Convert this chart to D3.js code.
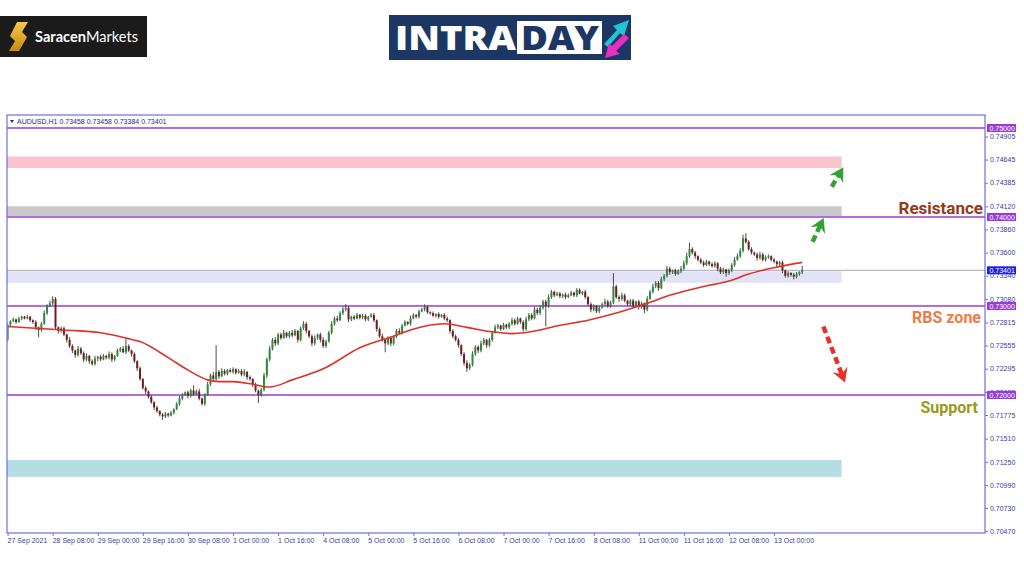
<!DOCTYPE html>
<html>
<head>
<meta charset="utf-8">
<script src="https://cdn.jsdelivr.net/npm/d3@7"></script>
<style>
  body { margin: 0; background: #fff; }
  svg { display: block; font-family: "Liberation Sans", Arial, sans-serif; }
  .axis text { font-size: 7px; fill: #3a3aa8; }
  .axis line { stroke: #6f6fe6; }
  .note { font-family: Roboto, "Noto Sans", sans-serif; font-weight: 700; }
</style>
</head>
<body>
<div class="chart"></div>
<script>
var svgWidth = 1024;
var svgHeight = 583;

// AUDUSD H1 candles, prices in pips (7279 = 0.7279). open = previous close
var firstOpen = 7262;
var closes = [
  7279, 7283, 7285, 7282, 7286, 7288, 7286, 7288, 7284, 7282, 7276, 7273, 7280, 7292, 7300, 7303, 7308, 7276, 7272, 7275,
  7268, 7262, 7255, 7250, 7245, 7252, 7247, 7240, 7244, 7238, 7235, 7241, 7243, 7240, 7244, 7242, 7246, 7240, 7244, 7250,
  7252, 7248, 7255, 7250, 7246, 7238, 7230, 7218, 7208, 7204, 7198, 7192, 7186, 7182, 7178, 7176, 7179, 7177, 7180, 7184,
  7190, 7196, 7200, 7203, 7199, 7205, 7201, 7204, 7196, 7190, 7200, 7212, 7222, 7218, 7226, 7221, 7227, 7224, 7228, 7226,
  7229, 7225, 7227, 7223, 7226, 7220, 7218, 7212, 7205, 7200, 7206, 7222, 7240, 7252, 7262, 7258, 7268, 7264, 7270, 7266,
  7270, 7267, 7272, 7262, 7275, 7280, 7272, 7266, 7258, 7264, 7268, 7262, 7255, 7260, 7270, 7280, 7286, 7284, 7292, 7296,
  7298, 7285, 7288, 7286, 7290, 7287, 7289, 7285, 7288, 7290, 7284, 7274, 7266, 7262, 7258, 7264, 7258, 7266, 7272, 7270,
  7278, 7282, 7280, 7286, 7290, 7288, 7294, 7296, 7299, 7293, 7292, 7289, 7291, 7288, 7290, 7286, 7284, 7272, 7266, 7262,
  7256, 7246, 7236, 7230, 7234, 7246, 7254, 7250, 7258, 7262, 7256, 7262, 7270, 7276, 7278, 7274, 7279, 7276, 7280, 7284,
  7280, 7286, 7282, 7274, 7285, 7290, 7286, 7296, 7292, 7298, 7305, 7300, 7310, 7316, 7312, 7314, 7311, 7313, 7310, 7312,
  7315, 7312, 7318, 7314, 7316, 7310, 7302, 7296, 7300, 7294, 7298, 7302, 7305, 7300, 7304, 7322, 7310, 7308, 7312, 7306,
  7302, 7306, 7300, 7305, 7299, 7303, 7296, 7308, 7316, 7322, 7326, 7320, 7330, 7334, 7342, 7338, 7340, 7336, 7339, 7342,
  7348, 7356, 7364, 7360, 7356, 7352, 7349, 7346, 7350, 7347, 7345, 7348, 7342, 7338, 7341, 7337, 7340, 7346, 7352, 7356,
  7362, 7376, 7372, 7364, 7360, 7358, 7354, 7358, 7352, 7355, 7356, 7352, 7350, 7347, 7349, 7340, 7334, 7337, 7335, 7333,
  7336, 7338, 7340.1
];
var hiWick = [
  2, 1, 2, 1, 2, 1, 1, 2, 1, 1, 2, 1, 2, 3, 2, 3, 3, 2, 1, 2,
  2, 1, 3, 2, 1, 3, 2, 2, 3, 1, 2, 3, 1, 2, 2, 1, 3, 2, 1, 2,
  2, 3, 9, 2, 1, 2, 1, 2, 1, 2, 1, 2, 1, 2, 1, 2, 2, 1, 2, 1,
  2, 3, 2, 1, 2, 2, 6, 2, 3, 1, 2, 3, 2, 4, 30, 2, 3, 2, 1, 2,
  2, 1, 2, 2, 3, 1, 2, 1, 2, 1, 2, 3, 2, 3, 2, 3, 2, 2, 3, 1,
  2, 3, 2, 1, 2, 3, 2, 1, 2, 3, 1, 2, 3, 2, 2, 3, 2, 3, 2, 3,
  4, 2, 1, 2, 2, 1, 2, 2, 1, 2, 2, 1, 2, 3, 1, 2, 2, 1, 2, 3,
  2, 2, 1, 3, 2, 1, 2, 2, 3, 2, 1, 2, 1, 2, 1, 2, 2, 1, 2, 2,
  2, 1, 2, 3, 2, 3, 2, 2, 3, 2, 1, 2, 2, 3, 2, 1, 2, 1, 2, 3,
  2, 2, 1, 2, 3, 2, 2, 3, 2, 3, 2, 2, 3, 2, 1, 2, 2, 1, 2, 2,
  2, 1, 2, 2, 1, 2, 1, 2, 2, 1, 2, 2, 3, 2, 2, 15, 2, 2, 3, 2,
  1, 2, 2, 1, 2, 2, 1, 3, 2, 3, 2, 2, 3, 2, 3, 2, 1, 2, 2, 3,
  3, 4, 7, 2, 2, 1, 2, 2, 2, 1, 2, 2, 1, 2, 2, 1, 2, 2, 3, 3,
  3, 4, 6, 2, 2, 1, 2, 3, 2, 2, 2, 1, 2, 1, 2, 2, 1, 2, 1, 2,
  2, 1, 5
];
var loWick = [
  3, 2, 1, 2, 1, 2, 1, 1, 2, 2, 3, 8, 2, 1, 2, 1, 2, 2, 3, 2,
  2, 3, 2, 3, 3, 2, 2, 3, 2, 3, 2, 2, 3, 2, 1, 2, 2, 3, 2, 1,
  2, 1, 2, 2, 3, 2, 3, 2, 2, 3, 2, 2, 3, 2, 2, 4, 2, 2, 1, 2,
  1, 2, 2, 1, 3, 2, 2, 1, 2, 2, 2, 1, 2, 2, 2, 3, 1, 2, 2, 1,
  2, 2, 1, 2, 2, 3, 2, 3, 2, 9, 2, 2, 3, 2, 2, 3, 2, 2, 1, 2,
  2, 2, 1, 3, 2, 2, 3, 2, 3, 2, 2, 3, 2, 2, 1, 2, 2, 2, 1, 2,
  2, 3, 2, 2, 1, 2, 2, 2, 2, 1, 2, 3, 2, 2, 10, 2, 3, 2, 2, 2,
  2, 1, 2, 2, 1, 2, 2, 1, 2, 2, 2, 1, 2, 2, 1, 2, 2, 3, 2, 2,
  3, 2, 3, 4, 2, 2, 2, 3, 2, 2, 3, 2, 2, 1, 2, 2, 1, 2, 2, 2,
  2, 1, 2, 3, 2, 2, 2, 1, 2, 2, 2, 23, 2, 2, 2, 1, 2, 2, 2, 1,
  1, 2, 2, 1, 2, 2, 2, 3, 2, 2, 2, 1, 2, 2, 2, 2, 2, 3, 2, 2,
  2, 2, 2, 2, 3, 2, 4, 2, 1, 2, 2, 3, 1, 2, 2, 3, 2, 2, 1, 2,
  2, 2, 2, 2, 3, 2, 2, 2, 1, 2, 2, 2, 3, 2, 2, 4, 2, 2, 2, 1,
  2, 2, 2, 2, 2, 2, 3, 2, 2, 2, 2, 2, 2, 3, 2, 3, 2, 2, 2, 3,
  2, 2, 2
];

// red moving average, read at a few bars
var maBars   = [0, 20, 33, 42, 47, 57, 64, 71, 75, 80, 87, 93, 101, 113, 125, 137, 143, 155, 163, 172, 179, 189, 194, 206, 217, 227, 235, 247, 256, 263, 272, 282];
var maValues = [7277, 7273, 7270, 7264, 7260, 7242, 7228, 7217, 7215, 7215, 7212, 7209, 7217, 7231, 7253, 7266, 7273, 7280, 7276, 7271, 7269, 7273, 7277, 7284, 7293, 7303, 7312, 7322, 7328, 7336, 7343, 7349];

var timeLabels = ["27 Sep 2021", "28 Sep 08:00", "29 Sep 00:00", "29 Sep 16:00", "30 Sep 08:00", "1 Oct 00:00",
  "1 Oct 16:00", "4 Oct 08:00", "5 Oct 00:00", "5 Oct 16:00", "6 Oct 08:00", "7 Oct 00:00", "7 Oct 16:00",
  "8 Oct 08:00", "11 Oct 00:00", "11 Oct 16:00", "12 Oct 08:00", "13 Oct 00:00"];
var timeTickBars = [0, 16, 32, 48, 64, 80, 96, 112, 128, 144, 160, 176, 192, 208, 224, 240, 256, 272];

var priceTicks = [0.74905, 0.74645, 0.74385, 0.74120, 0.73860, 0.73600, 0.73340, 0.73080, 0.72815,
  0.72555, 0.72295, 0.72035, 0.71775, 0.71510, 0.71250, 0.70990, 0.70730, 0.70470];
var levels = [0.75, 0.74, 0.73, 0.72];
var lastPrice = 0.73401;

// zones (pips) : top, bottom
var zoneTops    = [7468, 7412, 7339, 7127];
var zoneBottoms = [7455, 7401, 7326, 7108];
var zoneEndBar = 296;
var zoneColors = ["#f9c4cc", "#c9c9c9", "#e2e2f6", "#b3dfe3"];

// forecast arrows [bar, pips]
var arrowFrom = [[285.7, 7372], [292.5, 7434], [289.5, 7277]];
var arrowTo   = [[289.6, 7399], [296.6, 7456], [297.2, 7214]];
var arrowColors = ["#33a038", "#33a038", "#e8302a"];

var svg = d3.select(".chart")
  .append("svg")
  .attr("width", svgWidth)
  .attr("height", svgHeight);

var frame = { left: 7, top: 115, right: 985, bottom: 533 };

var x = d3.scaleLinear().domain([0, 282]).range([7.6, 802.2]);
var y = d3.scaleLinear().domain([0.72, 0.75]).range([395, 128]);
var yp = function (v) { return y(v / 10000); };

// ---------- logos ----------
var logo1 = svg.append("g");
logo1.append("rect").attr("x", 0).attr("y", 16).attr("width", 147).attr("height", 41).attr("fill", "#1b1b1b");
var grad = svg.append("defs").append("linearGradient").attr("id", "gold")
  .attr("x1", 0).attr("y1", 0).attr("x2", 0).attr("y2", 1);
grad.append("stop").attr("offset", "0%").attr("stop-color", "#f7c948");
grad.append("stop").attr("offset", "100%").attr("stop-color", "#c98a12");
logo1.append("path")
  .attr("d", "M17,22 L28,22 L22,32 L27,37 L19,51 L9,51 L15,41 L10,36 Z")
  .attr("fill", "url(#gold)");
var logoText = logo1.append("text").attr("x", 35).attr("y", 42)
  .attr("textLength", 103).attr("lengthAdjust", "spacingAndGlyphs")
  .style("font-family", "Lato, 'Open Sans', sans-serif").style("font-size", "14.5px").attr("fill", "#fff");
logoText.append("tspan").style("font-weight", 700).text("Saracen");
logoText.append("tspan").style("font-weight", 400).text("Markets");

var logo2 = svg.append("g");
logo2.append("rect").attr("x", 389).attr("y", 15).attr("width", 242).attr("height", 45).attr("fill", "#1c3764");
logo2.append("text").attr("x", 395).attr("y", 50)
  .attr("textLength", 121).attr("lengthAdjust", "spacingAndGlyphs")
  .style("font-family", "'Open Sans', sans-serif").style("font-weight", 800).style("font-size", "33px")
  .attr("fill", "#fff").text("INTRA");
logo2.append("rect").attr("x", 517).attr("y", 21).attr("width", 85).attr("height", 33).attr("fill", "#fff");
logo2.append("text").attr("x", 521).attr("y", 50)
  .attr("textLength", 78).attr("lengthAdjust", "spacingAndGlyphs")
  .style("font-family", "'Open Sans', sans-serif").style("font-weight", 800).style("font-size", "33px")
  .attr("fill", "#1c3764").text("DAY");
logo2.append("path").attr("d", "M604,44 L617,30 L613,26 L629,20 L624,36 L620,33 L608,47 Z").attr("fill", "#22c3d2");
logo2.append("path").attr("d", "M629,38 L616,51 L620,54 L605,58 L609,43 L612,46 L624,34 Z").attr("fill", "#e82fc2");

// ---------- chart ----------
var chartGroup = svg.append("g");
svg.append("clipPath").attr("id", "plot").append("rect")
  .attr("x", frame.left + 0.5).attr("y", frame.top).attr("width", frame.right - frame.left).attr("height", frame.bottom - frame.top);

// zones
chartGroup.selectAll("rect.zone")
  .data(zoneTops)
  .enter()
  .append("rect")
  .attr("class", "zone")
  .attr("x", frame.left)
  .attr("width", x(zoneEndBar) - frame.left)
  .attr("y", d => yp(d))
  .attr("height", (d, i) => yp(zoneBottoms[i]) - yp(d))
  .attr("fill", (d, i) => zoneColors[i]);

// last price line
chartGroup.append("line")
  .attr("x1", frame.left).attr("x2", frame.right)
  .attr("y1", y(lastPrice)).attr("y2", y(lastPrice))
  .attr("stroke", "#a9a9b4").attr("stroke-width", 1);

// level lines
chartGroup.selectAll("line.level")
  .data(levels)
  .enter()
  .append("line")
  .attr("x1", frame.left).attr("x2", frame.right)
  .attr("y1", d => y(d)).attr("y2", d => y(d))
  .attr("stroke", "#9a3bd8").attr("stroke-width", 1.6);

// candles
var candles = closes.map(function (c, i) {
  var o = i === 0 ? firstOpen : closes[i - 1];
  return { i: i, o: o, c: c, h: Math.max(o, c) + hiWick[i], l: Math.min(o, c) - loWick[i] };
});
var candleGroup = chartGroup.append("g").attr("clip-path", "url(#plot)");
candleGroup.selectAll("line.wick")
  .data(candles)
  .enter()
  .append("line")
  .attr("x1", d => x(d.i)).attr("x2", d => x(d.i))
  .attr("y1", d => yp(d.h)).attr("y2", d => yp(d.l))
  .attr("stroke", "#3a3a3a").attr("stroke-width", 0.9);
candleGroup.selectAll("rect.body")
  .data(candles)
  .enter()
  .append("rect")
  .attr("x", d => x(d.i) - 1)
  .attr("width", 2)
  .attr("y", d => yp(Math.max(d.o, d.c)))
  .attr("height", d => Math.max(1, Math.abs(yp(d.o) - yp(d.c))))
  .attr("fill", d => d.c >= d.o ? "#2f8a3b" : "#6e1e1e");

// moving average
var maLine = d3.line()
  .x((d, i) => x(maBars[i]))
  .y(d => yp(d))
  .curve(d3.curveMonotoneX);
chartGroup.append("path")
  .datum(maValues)
  .attr("d", maLine)
  .attr("fill", "none")
  .attr("stroke", "#e0302a")
  .attr("stroke-width", 1.6);

// frame
chartGroup.append("rect")
  .attr("x", frame.left).attr("y", frame.top)
  .attr("width", frame.right - frame.left).attr("height", frame.bottom - frame.top)
  .attr("fill", "none").attr("stroke", "#6f6fe6").attr("stroke-width", 1.2);

// header
chartGroup.append("path").attr("d", "M10,120 L14,120 L12,123 Z").attr("fill", "#2b2b7a");
chartGroup.append("text").attr("x", 17).attr("y", 124)
  .style("font-size", "7px").attr("fill", "#2b2b7a")
  .text("AUDUSD,H1  0.73458 0.73458 0.73384 0.73401");

// axes
var rightAxis = d3.axisRight(y).tickValues(priceTicks).tickFormat(d3.format(".5f")).tickSize(3).tickPadding(2);
chartGroup.append("g").attr("class", "axis")
  .attr("transform", `translate(${frame.right}, 0)`)
  .call(rightAxis)
  .call(g => g.select(".domain").remove());

var bottomAxis = d3.axisBottom(x).tickValues(timeTickBars).tickFormat((d, i) => timeLabels[i]).tickSize(3).tickPadding(2);
chartGroup.append("g").attr("class", "axis")
  .attr("transform", `translate(0, ${frame.bottom})`)
  .call(bottomAxis)
  .call(g => g.select(".domain").remove())
  .selectAll("text").attr("text-anchor", "start").attr("dx", "-0.5");

// price boxes on the right
var boxes = levels.map(d => ({ v: d, fill: "#9a3bd8" })).concat([{ v: lastPrice, fill: "#1f1fe0" }]);
var boxGroup = chartGroup.selectAll("g.pbox")
  .data(boxes)
  .enter()
  .append("g")
  .attr("transform", d => `translate(${frame.right + 2}, ${y(d.v)})`);
boxGroup.append("rect").attr("x", 0).attr("y", -4).attr("width", 29).attr("height", 8).attr("fill", d => d.fill);
boxGroup.append("text").attr("x", 2.5).attr("y", 2.5)
  .style("font-size", "7px").attr("fill", "#fff")
  .text(d => d3.format(".5f")(d.v));

// zone notes
var notes = chartGroup.append("g").attr("class", "note").attr("text-anchor", "end");
notes.append("text").attr("x", 983).attr("y", 214).style("font-size", "17px").attr("fill", "#943a1b").text("Resistance");
notes.append("text").attr("x", 981).attr("y", 323).style("font-size", "16px").attr("fill", "#ef7b43").text("RBS zone");
notes.append("text").attr("x", 978).attr("y", 413).style("font-size", "16px").attr("fill", "#979a1f").text("Support");

// dashed arrows
arrowFrom.forEach(function (p, i) {
  var x1 = x(p[0]), y1 = yp(p[1]), x2 = x(arrowTo[i][0]), y2 = yp(arrowTo[i][1]);
  var ang = Math.atan2(y2 - y1, x2 - x1);
  var ex = x2 - 8 * Math.cos(ang), ey = y2 - 8 * Math.sin(ang);
  chartGroup.append("line")
    .attr("x1", x1).attr("y1", y1).attr("x2", ex).attr("y2", ey)
    .attr("stroke", arrowColors[i]).attr("stroke-width", 4.5)
    .attr("stroke-dasharray", "7,4");
  chartGroup.append("path")
    .attr("d", "M0,0 L-14,-8 L-9,0 L-14,8 Z")
    .attr("transform", `translate(${x2},${y2}) rotate(${ang * 180 / Math.PI})`)
    .attr("fill", arrowColors[i]);
});
</script>
</body>
</html>
